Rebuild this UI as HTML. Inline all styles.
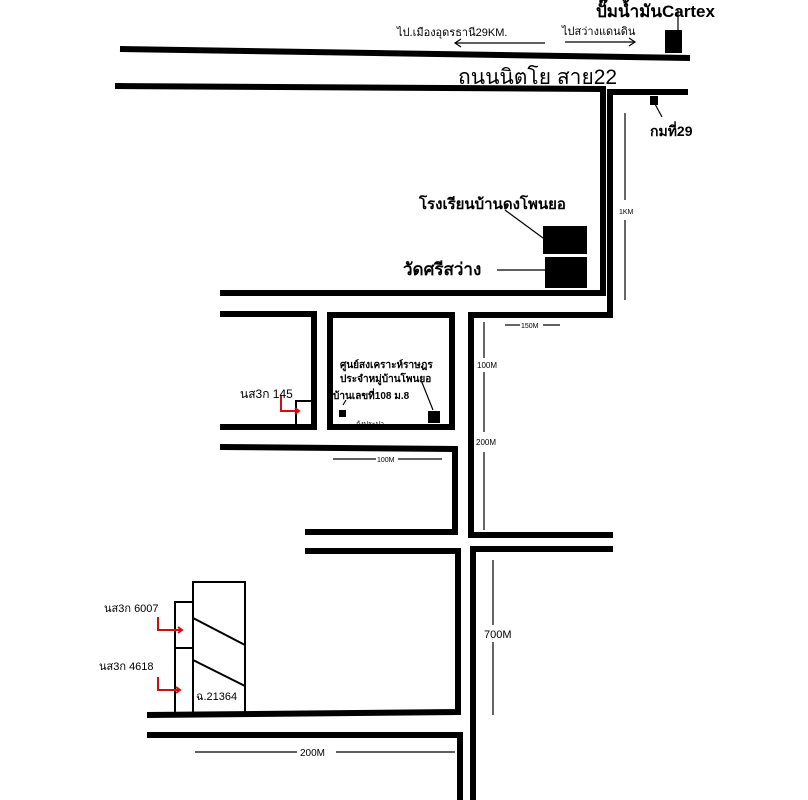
<!DOCTYPE html>
<html><head><meta charset="utf-8"><style>
html,body{margin:0;padding:0;background:#fff;}
svg{display:block;}
text{font-family:"Liberation Sans","Noto Sans CJK SC",sans-serif;fill:#000;}
</style></head><body>
<svg width="808" height="800" viewBox="0 0 808 800" xmlns="http://www.w3.org/2000/svg">
<g fill="none" stroke="#000" stroke-width="6" stroke-linejoin="miter">
<line x1="120" y1="49" x2="690" y2="58"/>
<polyline points="115,86 603,89 603,293 220,293"/>
<polyline points="688,92 610,92 610,315 471,315 471,535 613,535"/>
<polyline points="613,549 473,549 473,800"/>
<polyline points="220,314 314,314 314,427 220,427"/>
<rect x="330" y="315" width="122" height="112"/>
<polyline points="220,447 455,449 455,532 305,532"/>
<polyline points="305,551 458,551 458,712 147,715"/>
<polyline points="147,735 460,735 460,800"/>
</g>
<g fill="none" stroke="#000" stroke-width="2">
<rect x="296" y="401" width="17" height="26"/>
<rect x="193" y="582" width="52" height="131"/>
<rect x="175" y="602" width="18" height="111"/>
<line x1="175" y1="648" x2="193" y2="648"/>
<line x1="193" y1="618" x2="245" y2="645"/>
<line x1="193" y1="660" x2="245" y2="686"/>
</g>
<g stroke="#000" stroke-width="1.2" fill="none">
<line x1="455" y1="43" x2="545" y2="43"/><polyline points="461,39 455,43 461,47"/>
<line x1="565" y1="42" x2="635" y2="42"/><polyline points="629,38 635,42 629,46"/>
<line x1="678" y1="10" x2="678" y2="35"/>
<line x1="655" y1="104" x2="662" y2="117"/>
<line x1="625" y1="113" x2="625" y2="200"/><line x1="625" y1="220" x2="625" y2="300"/>
<line x1="505" y1="210" x2="543" y2="238"/>
<line x1="497" y1="270" x2="545" y2="270"/>
<line x1="505" y1="325" x2="520" y2="325"/><line x1="543" y1="325" x2="560" y2="325"/>
<line x1="484" y1="322" x2="484" y2="358"/><line x1="484" y1="372" x2="484" y2="432"/><line x1="484" y1="452" x2="484" y2="530"/>
<line x1="333" y1="459" x2="376" y2="459"/><line x1="398" y1="459" x2="442" y2="459"/>
<line x1="333" y1="425" x2="355" y2="425"/>
<line x1="421" y1="380" x2="433" y2="410"/>
<line x1="346" y1="400" x2="343" y2="405"/>
<line x1="493" y1="560" x2="493" y2="625"/><line x1="493" y1="642" x2="493" y2="715"/>
<line x1="195" y1="752" x2="297" y2="752"/><line x1="336" y1="752" x2="455" y2="752"/>
</g>
<rect x="665" y="30" width="17" height="23" fill="#000"/>
<rect x="650" y="96" width="8" height="9" fill="#000"/>
<rect x="543" y="226" width="44" height="28" fill="#000"/>
<rect x="545" y="257" width="42" height="31" fill="#000"/>
<rect x="428" y="411" width="12" height="12" fill="#000"/>
<rect x="339" y="410" width="7" height="7" fill="#000"/>
<g stroke="#d01010" stroke-width="2" fill="none">
<polyline points="281,395 281,411 299,411"/><polyline points="295,408 299,411 295,414"/>
<polyline points="158,617 158,630 182,630"/><polyline points="178,627 182,630 178,633"/>
<polyline points="158,677 158,690 180,690"/><polyline points="176,687 180,690 176,693"/>
</g>
<text x="596" y="17" font-size="17" font-weight="bold">ปั๊มน้ำมันCartex</text>
<text x="397" y="36" font-size="11">ไป.เมืองอุดรธานี29KM.</text>
<text x="562" y="35" font-size="11">ไปสว่างแดนดิน</text>
<text x="458" y="84" font-size="21">ถนนนิตโย สาย22</text>
<text x="650" y="136" font-size="14" font-weight="bold">กมที่29</text>
<text x="619" y="214" font-size="7">1KM</text>
<text x="419" y="209" font-size="15" font-weight="bold">โรงเรียนบ้านดงโพนยอ</text>
<text x="403" y="275" font-size="17" font-weight="bold">วัดศรีสว่าง</text>
<text x="521" y="328" font-size="7">150M</text>
<text x="477" y="368" font-size="8">100M</text>
<text x="476" y="445" font-size="8">200M</text>
<text x="340" y="368" font-size="10" font-weight="bold">ศูนย์สงเคราะห์ราษฎร</text>
<text x="340" y="382" font-size="10" font-weight="bold">ประจำหมู่บ้านโพนยอ</text>
<text x="333" y="399" font-size="10" font-weight="bold">บ้านเลขที่108 ม.8</text>
<text x="356" y="426" font-size="7">ถังประปา</text>
<text x="240" y="398" font-size="12">นส3ก 145</text>
<text x="377" y="462" font-size="7">100M</text>
<text x="104" y="612" font-size="11">นส3ก 6007</text>
<text x="99" y="670" font-size="11">นส3ก 4618</text>
<text x="196" y="700" font-size="11">ฉ.21364</text>
<text x="484" y="638" font-size="11">700M</text>
<text x="300" y="756" font-size="10">200M</text>
</svg>
</body></html>
